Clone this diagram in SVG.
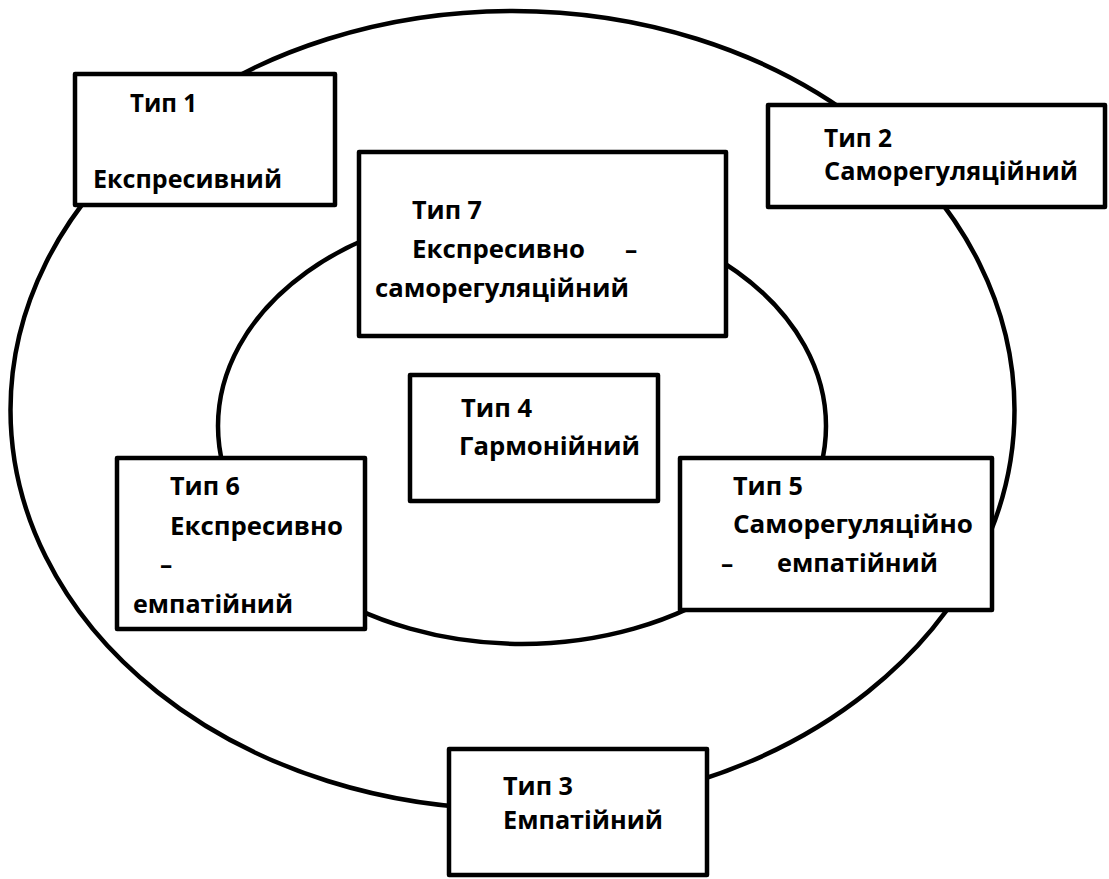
<svg xmlns="http://www.w3.org/2000/svg" width="1109" height="879" viewBox="0 0 1109 879">
<style>
.ring{fill:none;stroke:#000;stroke-width:4.5}
.box{fill:#fff;stroke:#000;stroke-width:4.5;stroke-linejoin:round}
text{font-family:"Open Sans","Noto Sans","Liberation Sans",sans-serif;font-weight:bold;font-size:24.5px;fill:#000}
</style>
<rect width="1109" height="879" fill="#fff"/>
<g id="connectors">
<ellipse class="ring" cx="512.5" cy="410" rx="502" ry="399"/>
<ellipse class="ring" cx="522" cy="426" rx="304" ry="218"/>
</g>
<g id="type1">
<rect class="box" x="75" y="74" width="260" height="131"/>
<text x="130" y="112" textLength="67" lengthAdjust="spacingAndGlyphs">Тип 1</text>
<text x="93" y="188" textLength="189" lengthAdjust="spacingAndGlyphs">Експресивний</text>
</g>
<g id="type2">
<rect class="box" x="768" y="105" width="337" height="102"/>
<text x="824" y="147" textLength="68" lengthAdjust="spacingAndGlyphs">Тип 2</text>
<text x="824" y="180" textLength="254" lengthAdjust="spacingAndGlyphs">Саморегуляційний</text>
</g>
<g id="type7">
<rect class="box" x="359" y="152" width="367" height="184"/>
<text x="412" y="219" textLength="70" lengthAdjust="spacingAndGlyphs">Тип 7</text>
<text y="258"><tspan x="412" textLength="173" lengthAdjust="spacingAndGlyphs">Експресивно</tspan><tspan x="625">–</tspan></text>
<text x="375" y="297" textLength="254" lengthAdjust="spacingAndGlyphs">саморегуляційний</text>
</g>
<g id="type4">
<rect class="box" x="410" y="375" width="248" height="126"/>
<text x="461" y="417" textLength="71" lengthAdjust="spacingAndGlyphs">Тип 4</text>
<text x="459" y="455" textLength="181" lengthAdjust="spacingAndGlyphs">Гармонійний</text>
</g>
<g id="type6">
<rect class="box" x="117" y="458" width="248" height="171"/>
<text x="170" y="495" textLength="70" lengthAdjust="spacingAndGlyphs">Тип 6</text>
<text x="170" y="535" textLength="173" lengthAdjust="spacingAndGlyphs">Експресивно</text>
<text x="160" y="573">–</text>
<text x="133" y="613" textLength="160" lengthAdjust="spacingAndGlyphs">емпатійний</text>
</g>
<g id="type5">
<rect class="box" x="680" y="458" width="312" height="152"/>
<text x="733" y="495" textLength="70" lengthAdjust="spacingAndGlyphs">Тип 5</text>
<text x="733" y="533" textLength="240" lengthAdjust="spacingAndGlyphs">Саморегуляційно</text>
<text y="572"><tspan x="721">–</tspan><tspan x="777" textLength="161" lengthAdjust="spacingAndGlyphs">емпатійний</tspan></text>
</g>
<g id="type3">
<rect class="box" x="449" y="749" width="258" height="126"/>
<text x="503" y="795" textLength="70" lengthAdjust="spacingAndGlyphs">Тип 3</text>
<text x="503" y="829" textLength="160" lengthAdjust="spacingAndGlyphs">Емпатійний</text>
</g>
</svg>
